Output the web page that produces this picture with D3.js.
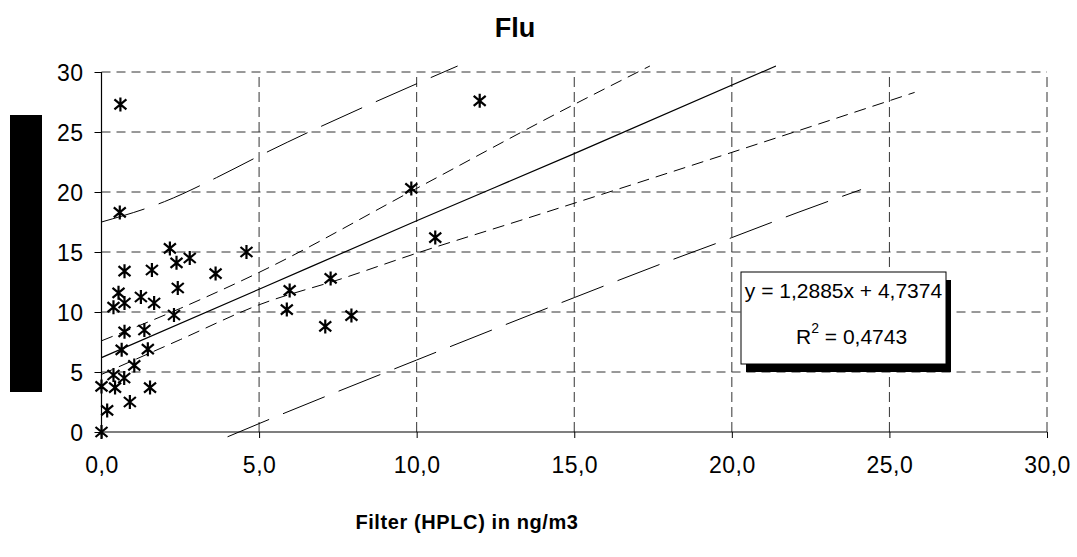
<!DOCTYPE html>
<html>
<head>
<meta charset="utf-8">
<script src="https://cdn.jsdelivr.net/npm/d3@7"></script>
<style>
  body { margin: 0; background: #fff; }
  svg { display: block; font-family: Arial, "Liberation Sans", sans-serif; }
</style>
</head>
<body>
<div id="chart"></div>
<script>
// values
let pointsX = [0.0, 0.18, 0.0, 0.43, 0.9, 1.54, 0.38, 0.72, 1.04, 0.64, 1.47, 0.73, 1.36, 0.38, 0.73, 0.54,
    1.25, 1.67, 0.73, 1.6, 2.17, 2.38, 2.8, 2.42, 2.3, 3.62, 4.6, 0.58, 0.6, 5.97, 5.88, 7.1, 7.27, 7.93,
    9.83, 10.59, 12.0];
let pointsY = [0.0, 1.8, 3.8, 3.7, 2.5, 3.7, 4.75, 4.5, 5.55, 6.85, 6.9, 8.35, 8.5, 10.4, 10.75, 11.6,
    11.25, 10.75, 13.4, 13.5, 15.3, 14.1, 14.5, 12.0, 9.75, 13.2, 15.0, 18.3, 27.3, 11.8, 10.2, 8.8, 12.8, 9.7,
    20.3, 16.2, 27.6];

let fitLine = [[0, 6.2], [5, 11.9], [10, 17.6], [15, 23.2], [21.4, 30.5]];
let upperCI = [[0, 7.6], [2.5, 10.3], [5, 13.3], [10, 20.3], [15, 27.3], [17.4, 30.5]];
let lowerCI = [[0, 4.8], [2.5, 7.7], [5, 10.6], [7.65, 12.8], [10, 14.9], [13.25, 17.6], [18, 21.6], [22.1, 25.1], [25.8, 28.3]];
let upperPI = [[0, 17.5], [2, 19.2], [3.65, 21.2], [5, 23.0], [10.2, 29.25], [11.3, 30.5]];
let lowerPI = [[4.0, -0.4], [5, 0.7], [10, 6.0], [15, 11.2], [18.05, 14.3], [20, 16.2], [22.1, 18.3], [24.1, 20.2]];

let xTicks = [0, 5, 10, 15, 20, 25, 30];
let yTicks = [0, 5, 10, 15, 20, 25, 30];

let title = "Flu";
let xTitle = "Filter (HPLC) in ng/m3";
let equation = "y = 1,2885x + 4,7374";
let rSquared = "= 0,4743";

let width = 1077, height = 557;

let svg = d3.select("#chart").append("svg")
    .attr("width", width)
    .attr("height", height);

let x = d3.scaleLinear().domain([0, 30]).range([101.5, 1047]);
let y = d3.scaleLinear().domain([0, 30]).range([432, 72]);

let fmtX = d => d3.format(".1f")(d).replace(".", ",");

// grid
svg.append("g").selectAll("line")
    .data(yTicks.filter(d => d > 0))
    .join("line")
    .attr("x1", x(0)).attr("x2", x(30))
    .attr("y1", d => y(d)).attr("y2", d => y(d))
    .attr("stroke", "#333").attr("stroke-width", 1)
    .attr("stroke-dasharray", "9,6");

svg.append("g").selectAll("line")
    .data(xTicks.filter(d => d > 0))
    .join("line")
    .attr("x1", d => x(d)).attr("x2", d => x(d))
    .attr("y1", y(0)).attr("y2", y(30))
    .attr("stroke", "#333").attr("stroke-width", 1)
    .attr("stroke-dasharray", "10,5");

// axes
let xAxis = svg.append("g")
    .attr("transform", `translate(0,${y(0)})`)
    .call(d3.axisBottom(x).tickValues(xTicks).tickFormat(fmtX).tickSize(6).tickPadding(19));
let yAxis = svg.append("g")
    .attr("transform", `translate(${x(0)},0)`)
    .call(d3.axisLeft(y).tickValues(yTicks).tickSize(7).tickPadding(11));

[xAxis, yAxis].forEach(a => {
    a.select(".domain").attr("stroke", "#000").attr("stroke-width", 1.2);
    a.selectAll(".tick line").attr("stroke", "#000");
    a.selectAll("text")
        .attr("fill", "#000")
        .style("font-size", "23px")
        .style("letter-spacing", "0.5px")
        .style("font-family", "Arial, 'Liberation Sans', sans-serif");
});
xAxis.select(".domain").attr("d", `M${x(0)},0H${x(30)}`);
yAxis.select(".domain").attr("d", `M0,${y(0)}V${y(30)}`);
yAxis.selectAll("text").attr("dy", "0.36em");

// lines
let line = d3.line()
    .x(d => x(d[0]))
    .y(d => y(d[1]))
    .curve(d3.curveMonotoneX);

let lineSets = [
    {data: fitLine, dash: null, w: 1.2},
    {data: upperCI, dash: "12,7", w: 1},
    {data: lowerCI, dash: "12,7", w: 1},
    {data: upperPI, dash: "45,15", w: 1},
    {data: lowerPI, dash: "45,15", w: 1}
];
svg.append("g").selectAll("path")
    .data(lineSets)
    .join("path")
    .attr("d", d => line(d.data))
    .attr("fill", "none")
    .attr("stroke", "#000")
    .attr("stroke-width", d => d.w)
    .attr("stroke-dasharray", d => d.dash);

// star markers
let points = pointsX.map((v, i) => ({x: v, y: pointsY[i]}));
let star = "M0,-7V7M-6,-5L6,5M-6,5L6,-5";
svg.append("g").selectAll("path")
    .data(points)
    .join("path")
    .attr("transform", d => `translate(${x(d.x)},${y(d.y)})`)
    .attr("d", star)
    .attr("fill", "none")
    .attr("stroke", "#000")
    .attr("stroke-width", 2.2);

// equation box with shadow
let box = {x: 741, y: 272, w: 205, h: 92};
svg.append("rect")
    .attr("x", box.x + 5).attr("y", box.y + 8)
    .attr("width", box.w).attr("height", box.h)
    .attr("fill", "#000");
svg.append("rect")
    .attr("x", box.x).attr("y", box.y)
    .attr("width", box.w).attr("height", box.h)
    .attr("fill", "#fff").attr("stroke", "#000").attr("stroke-width", 1);

svg.append("text")
    .attr("x", box.x + box.w / 2).attr("y", 298)
    .attr("text-anchor", "middle")
    .style("font-size", "21px")
    .text(equation);

let r2 = svg.append("text")
    .attr("x", 796).attr("y", 344)
    .style("font-size", "21px");
r2.append("tspan").text("R");
r2.append("tspan").attr("dy", -11).style("font-size", "14px").text("2");
r2.append("tspan").attr("dy", 11).text(" " + rSquared);

// titles
svg.append("text")
    .attr("x", 515).attr("y", 37)
    .attr("text-anchor", "middle")
    .style("font-size", "27px")
    .style("font-weight", "bold")
    .text(title);

svg.append("text")
    .attr("x", 467).attr("y", 529)
    .attr("text-anchor", "middle")
    .style("font-size", "20px")
    .style("font-weight", "bold")
    .style("letter-spacing", "0.6px")
    .text(xTitle);

// black block covering the y-axis title
svg.append("rect")
    .attr("x", 10).attr("y", 115)
    .attr("width", 32).attr("height", 277)
    .attr("fill", "#000");
</script>
</body>
</html>
